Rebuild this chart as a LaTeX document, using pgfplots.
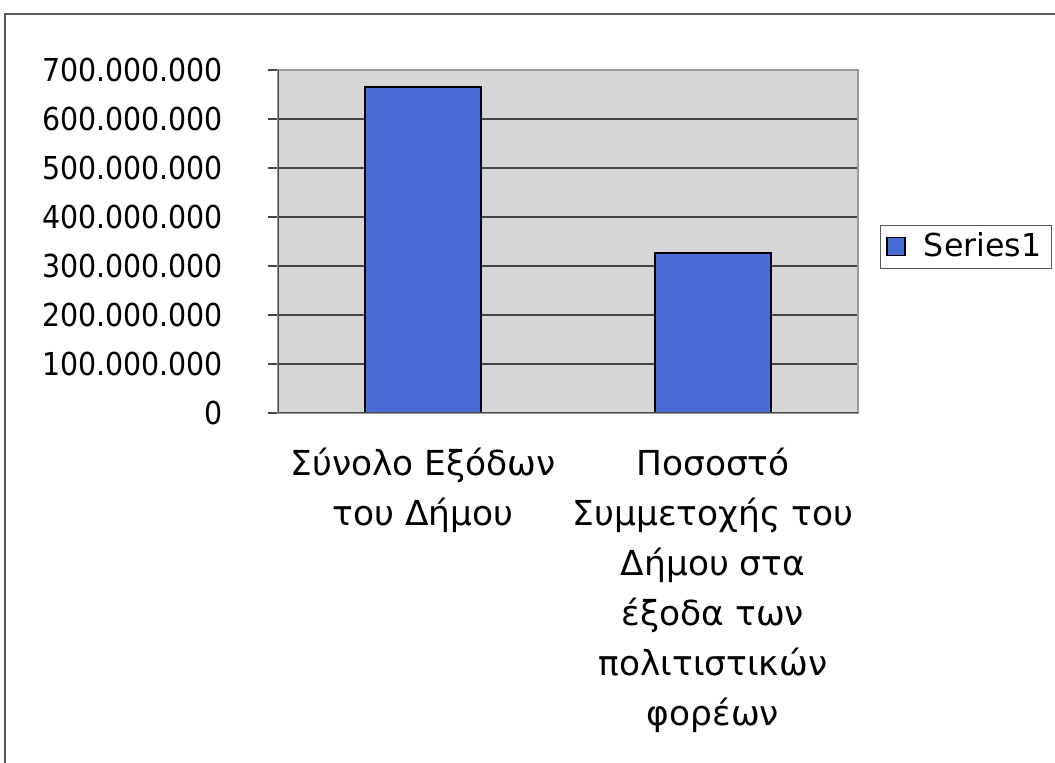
\documentclass[border=0pt]{standalone}
\usepackage{fontspec}
\setmainfont{DejaVu Sans}
\newfontfamily\tickfont{DejaVu Sans}[FakeStretch=0.9]
\usepackage{pgfplots}
\pgfplotsset{compat=1.18}
\definecolor{barblue}{RGB}{72,108,212}
\definecolor{plotgray}{RGB}{214,214,214}
\definecolor{gridgray}{RGB}{70,70,70}
\begin{document}
\fontsize{15.8}{25}\selectfont
\begin{tikzpicture}
\begin{axis}[
    at={(139pt,175pt)}, anchor=south west,
    scale only axis, width=290pt, height=171.5pt,
    xmin=-0.5, xmax=1.5,
    ymin=0, ymax=700000000,
    ytick={0,100000000,200000000,300000000,400000000,500000000,600000000,700000000},
    scaled y ticks=false,
    /pgf/number format/assume math mode=true,
    /pgf/number format/fixed,
    /pgf/number format/1000 sep={.},
    ytick pos=left,
    tick align=outside,
    major tick length=5pt,
    xtick={0,1},
    xticklabels={{Σύνολο Εξόδων\\του Δήμου},{Ποσοστό\\Συμμετοχής του\\Δήμου στα\\έξοδα των\\πολιτιστικών\\φορέων}},
    x tick label style={align=center, font=\fontsize{17.2}{25}\selectfont, yshift=-7pt},
    y tick label style={font=\tickfont\fontsize{15.8}{19}\selectfont, xshift=-17pt},
    major x tick style={draw=none},
    extra x ticks={-0.5,0.5,1.5},
    extra x tick labels={},
    extra x tick style={major tick length=6pt, tick style={draw=gridgray, line width=0.6pt}},
    major y tick style={draw=gridgray, line width=0.6pt},
    ymajorgrids=true,
    grid style={draw=gridgray, line width=0.8pt},
    axis background/.style={fill=plotgray},
    axis line style={draw=gray!80, line width=0.6pt},
    ybar, bar width=0.4,
    legend style={at={(1.0379,0.485)}, anchor=west, draw=gray!70!black,
        fill=white, font=\fontsize{15.8}{19}\selectfont, inner xsep=3pt, inner ysep=1.5pt},
    legend image code/.code={\draw[fill=barblue, draw=black, line width=0.8pt] (1.5pt,-4.5pt) rectangle (10.5pt,4.5pt);},
]
\addplot[fill=barblue, draw=black, line width=1.1pt] coordinates {(0,666000000) (1,326000000)};
\addlegendentry{\hspace*{7pt}Series1\hspace{10pt}}
\draw[gridgray, line width=0.8pt] (rel axis cs:0,1) -- (rel axis cs:0,0) -- (rel axis cs:1,0);
\end{axis}
\draw[gray!70!black, line width=1pt] (2.5pt,-5pt) -- (2.5pt,374.5pt) -- (535pt,374.5pt);
\pgfresetboundingbox
\useasboundingbox (0,0) rectangle (527.5pt,381.5pt);
\end{tikzpicture}
\end{document}
